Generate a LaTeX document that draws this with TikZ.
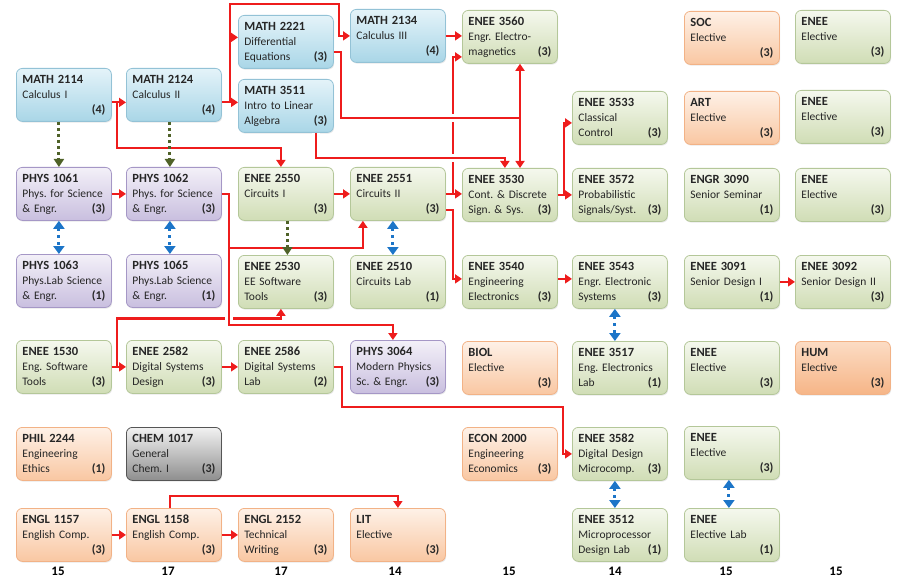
\documentclass[tikz,border=0pt]{standalone}
\usepackage{fontspec}
\setmainfont{Carlito}
\newcommand*{\chartfont}{\fontsize{11.5}{15}\selectfont\frenchspacing}
\newcommand*{\titlefont}{\fontsize{12.5}{15}\selectfont\bfseries}
\newcommand*{\crs}[4]{{\titlefont #1}\\\mbox{#2}\\\mbox{#3}\hfill{\fontsize{12}{15}\selectfont\bfseries(#4)}}
\setlength{\parindent}{0pt}
\definecolor{txt}{HTML}{262626}
\definecolor{mathtop}{HTML}{E4F3F9}
\definecolor{mathbot}{HTML}{A9D6E7}
\definecolor{mathline}{HTML}{93C2D6}
\definecolor{phystop}{HTML}{F3F0F8}
\definecolor{physbot}{HTML}{C9BFDF}
\definecolor{physline}{HTML}{A597C6}
\definecolor{eneetop}{HTML}{F5F8EE}
\definecolor{eneebot}{HTML}{D0DDB5}
\definecolor{eneeline}{HTML}{B4C799}
\definecolor{gentop}{HTML}{FEF1E7}
\definecolor{genbot}{HTML}{F9C7A2}
\definecolor{genline}{HTML}{F2B286}
\definecolor{chemtop}{HTML}{F2F2F2}
\definecolor{chembot}{HTML}{8E8E8E}
\definecolor{chemline}{HTML}{555555}
\definecolor{humtop}{HTML}{FCDCC4}
\definecolor{humbot}{HTML}{F6B587}
\definecolor{reqred}{HTML}{EE1C1C}
\definecolor{olive}{HTML}{4F6228}
\definecolor{coblue}{HTML}{1C75C8}
\usepackage{tikz}
\usetikzlibrary{arrows.meta}
\usetikzlibrary{shadows}
\tikzstyle{course}=[draw, rounded corners=6pt, anchor=north west, minimum width=95pt, minimum height=53pt,
  text width=83pt, inner xsep=6pt, inner ysep=0pt, align=left, text=txt, line width=0.8pt, font=\chartfont,
  drop shadow={opacity=0.18, shadow xshift=0.8pt, shadow yshift=-1.2pt}]
\tikzstyle{mathcrs}=[course, draw=mathline, top color=mathtop, bottom color=mathbot]
\tikzstyle{physcrs}=[course, draw=physline, top color=phystop, bottom color=physbot]
\tikzstyle{eneecrs}=[course, draw=eneeline, top color=eneetop, bottom color=eneebot]
\tikzstyle{gencrs}=[course, draw=genline, top color=gentop, bottom color=genbot]
\tikzstyle{chemcrs}=[course, draw=chemline, top color=chemtop, bottom color=chembot]
\tikzstyle{humcrs}=[course, draw=genline, top color=humtop, bottom color=humbot]
\tikzstyle{prereq}=[draw=reqred, line width=2.2pt, -{Triangle[length=7pt,width=9pt]}]
\tikzstyle{hop}=[preaction={draw=white, line width=8pt, -}]
\tikzstyle{softreq}=[draw=olive, line width=3pt, dash pattern=on 3pt off 3pt, -{Triangle[length=8pt,width=10pt]}]
\tikzstyle{coreq}=[draw=coblue, line width=3pt, dash pattern=on 3pt off 4pt,
  {Triangle[length=8pt,width=11pt]}-{Triangle[length=8pt,width=11pt]}]
\tikzstyle{total}=[font=\fontsize{13}{15}\selectfont\bfseries, text=black]

\begin{document}
\begin{tikzpicture}[x=1pt, y=-1pt]
    % first column
    \node[mathcrs] (m2114) at (16,68) {\crs{MATH 2114}{Calculus I}{}{4}};
    \node[physcrs] (p1061) at (16,167) {\crs{PHYS 1061}{Phys. for Science}{\& Engr.}{3}};
    \node[physcrs] (p1063) at (16,254) {\crs{PHYS 1063}{Phys.Lab Science}{\& Engr.}{1}};
    \node[eneecrs] (e1530) at (16,340) {\crs{ENEE 1530}{Eng. Software}{Tools}{3}};
    \node[gencrs] (phil) at (16,427) {\crs{PHIL 2244}{Engineering}{Ethics}{1}};
    \node[gencrs] (en1157) at (16,508) {\crs{ENGL 1157}{English Comp.}{}{3}};
    % second column
    \node[mathcrs] (m2124) at (126,68) {\crs{MATH 2124}{Calculus II}{}{4}};
    \node[physcrs] (p1062) at (126,167) {\crs{PHYS 1062}{Phys. for Science}{\& Engr.}{3}};
    \node[physcrs] (p1065) at (126,254) {\crs{PHYS 1065}{Phys.Lab Science}{\& Engr.}{1}};
    \node[eneecrs] (e2582) at (126,340) {\crs{ENEE 2582}{Digital Systems}{Design}{3}};
    \node[chemcrs] (chem) at (126,427) {\crs{CHEM 1017}{General}{Chem. I}{3}};
    \node[gencrs] (en1158) at (126,508) {\crs{ENGL 1158}{English Comp.}{}{3}};
    % third column
    \node[mathcrs] (m2221) at (238,15) {\crs{MATH 2221}{Differential}{Equations}{3}};
    \node[mathcrs] (m3511) at (238,79) {\crs{MATH 3511}{Intro to Linear}{Algebra}{3}};
    \node[eneecrs] (e2550) at (238,167) {\crs{ENEE 2550}{Circuits I}{}{3}};
    \node[eneecrs] (e2530) at (238,255) {\crs{ENEE 2530}{EE Software}{Tools}{3}};
    \node[eneecrs] (e2586) at (238,340) {\crs{ENEE 2586}{Digital Systems}{Lab}{2}};
    \node[gencrs] (en2152) at (238,508) {\crs{ENGL 2152}{Technical}{Writing}{3}};
    % fourth column
    \node[mathcrs] (m2134) at (350,9) {\crs{MATH 2134}{Calculus III}{}{4}};
    \node[eneecrs] (e2551) at (350,167) {\crs{ENEE 2551}{Circuits II}{}{3}};
    \node[eneecrs] (e2510) at (350,255) {\crs{ENEE 2510}{Circuits Lab}{}{1}};
    \node[physcrs] (p3064) at (350,340) {\crs{PHYS 3064}{Modern Physics}{Sc. \& Engr.}{3}};
    \node[gencrs] (lit) at (350,508) {\crs{LIT}{Elective}{}{3}};
    % fifth column
    \node[eneecrs] (e3560) at (462,10) {\crs{ENEE 3560}{Engr. Electro-}{magnetics}{3}};
    \node[eneecrs] (e3530) at (462,168) {\crs{ENEE 3530}{Cont. \& Discrete}{Sign. \& Sys.}{3}};
    \node[eneecrs] (e3540) at (462,255) {\crs{ENEE 3540}{Engineering}{Electronics}{3}};
    \node[gencrs] (biol) at (462,341) {\crs{BIOL}{Elective}{}{3}};
    \node[gencrs] (econ) at (462,427) {\crs{ECON 2000}{Engineering}{Economics}{3}};
    % sixth column
    \node[eneecrs] (e3533) at (572,91) {\crs{ENEE 3533}{Classical}{Control}{3}};
    \node[eneecrs] (e3572) at (572,168) {\crs{ENEE 3572}{Probabilistic}{Signals/Syst.}{3}};
    \node[eneecrs] (e3543) at (572,255) {\crs{ENEE 3543}{Engr. Electronic}{Systems}{3}};
    \node[eneecrs] (e3517) at (572,341) {\crs{ENEE 3517}{Eng. Electronics}{Lab}{1}};
    \node[eneecrs] (e3582) at (572,427) {\crs{ENEE 3582}{Digital Design}{Microcomp.}{3}};
    \node[eneecrs] (e3512) at (572,508) {\crs{ENEE 3512}{Microprocessor}{Design Lab}{1}};
    % seventh column
    \node[gencrs] (soc) at (684,11) {\crs{SOC}{Elective}{}{3}};
    \node[gencrs] (art) at (684,91) {\crs{ART}{Elective}{}{3}};
    \node[eneecrs] (engr) at (684,168) {\crs{ENGR 3090}{Senior Seminar}{}{1}};
    \node[eneecrs] (e3091) at (684,255) {\crs{ENEE 3091}{Senior Design I}{}{1}};
    \node[eneecrs] (elecA) at (684,341) {\crs{ENEE}{Elective}{}{3}};
    \node[eneecrs] (elecB) at (684,426) {\crs{ENEE}{Elective}{}{3}};
    \node[eneecrs] (eleclab) at (684,508) {\crs{ENEE}{Elective Lab}{}{1}};
    % eighth column
    \node[eneecrs] (elecC) at (795,10) {\crs{ENEE}{Elective}{}{3}};
    \node[eneecrs] (elecD) at (795,90) {\crs{ENEE}{Elective}{}{3}};
    \node[eneecrs] (elecE) at (795,168) {\crs{ENEE}{Elective}{}{3}};
    \node[eneecrs] (e3092) at (795,255) {\crs{ENEE 3092}{Senior Design II}{}{3}};
    \node[humcrs] (hum) at (795,341) {\crs{HUM}{Elective}{}{3}};
    % credit totals
    \foreach \x/\n [count=\i] in {58/15,168/17,281/17,395/14,509/15,615/14,726/15,836/15}
        \node[total] (tot\i) at (\x,571) {\n};

    % maths chain
    \draw[prereq] ([yshift=-7.5pt]m2114.east) -- ([yshift=-7.5pt]m2124.west);
    \draw[prereq] ([yshift=-7.5pt]m2114.east) -- ++(5,0) -- ++(0,46) -| ([xshift=-5pt]e2550.north);
    \draw[prereq] ([yshift=-7.5pt]m2124.east) -- ++(8,0) coordinate (b1) -- (m3511.west |- b1);
    \draw[prereq] (b1) |- ([yshift=4.5pt]m2221.west);
    \draw[prereq] (b1) -- ++(0,-98) -- ++(109,0) |- (m2134.west);
    \draw[prereq] (m2134.east) -- (e3560.west |- m2134.east);
    % circuits II fan out
    \draw[prereq] (e2551.east) -- ++(7,0) |- ([yshift=-20pt]e3560.west);
    \draw[prereq] (e2551.east) -- (e3530.west |- e2551.east);
    \draw[prereq] ([yshift=-16pt]e2551.east) -- ++(7,0) |- ([yshift=3pt]e3540.west);
    % crossing lines
    \coordinate (j1) at (520,118);
    \draw[prereq,hop] ([yshift=-10.5pt]m2221.east) -- ++(7,0) |- (j1) -- (j1 |- e3560.south);
    \draw[prereq] (j1) -- (j1 |- e3530.north);
    \draw[prereq,hop] ([xshift=30pt]m3511.south) -- ++(0,25) -| ([xshift=-5pt]e3530.north);
    \draw[prereq] (e3530.east) -- (e3572.west);
    \draw[prereq] (e3530.east) -- ++(6,0) |- ([yshift=-5pt]e3533.west);
    % circuits
    \draw[prereq] (e2550.east) -- (e2551.west);
    \draw[prereq] (p1061.east) -- (p1062.west);
    \draw[prereq] (e1530.east) -- (e2582.west);
    \draw[prereq] (e1530.east) -- ++(5,0) -- ++(0,-48.5) -| ([xshift=-5pt]e2530.south);
    \draw[prereq,hop] (p1062.east) -- ++(7,0) -- ++(0,131) -| ([xshift=-5pt]p3064.north);
    \draw[prereq] (p1062.east) ++(7,54) -| ([xshift=-35pt]e2551.south);
    \draw[prereq] (e2582.east) -- (e2586.west);
    \draw[prereq] (e2586.east) -- ++(8,0) -- ++(0,40) -- ++(221,0) |- (e3582.west);
    \draw[prereq] ([yshift=3pt]e3540.east) -- ([yshift=3pt]e3543.west);
    \draw[prereq] (e3091.east) -- (e3092.west);
    % english
    \draw[prereq] (en1157.east) -- (en1158.west);
    \draw[prereq] (en1158.east) -- (en2152.west);
    \draw[prereq] ([xshift=-4pt]en1158.north) -- ++(0,-12) -| (lit.north);
    % dotted links
    \draw[softreq] ([xshift=-5pt]m2114.south) -- ([xshift=-5pt]p1061.north);
    \draw[softreq] ([xshift=-4pt]m2124.south) -- ([xshift=-4pt]p1062.north);
    \draw[softreq] ([xshift=1.5pt]e2550.south) -- ([xshift=1.5pt]e2530.north);
    \draw[coreq] ([xshift=-5pt]p1061.south) -- ([xshift=-5pt]p1063.north);
    \draw[coreq] ([xshift=-4pt]p1062.south) -- ([xshift=-4pt]p1065.north);
    \draw[coreq] ([xshift=-5pt]e2551.south) -- ([xshift=-5pt]e2510.north);
    \draw[coreq] ([xshift=-5pt]e3543.south) -- ([xshift=-5pt]e3517.north);
    \draw[coreq] ([xshift=-5pt]e3582.south) -- ([xshift=-5pt]e3512.north);
    \draw[coreq] ([xshift=-3pt]elecB.south) -- ([xshift=-3pt]eleclab.north);
    \path [use as bounding box] (0,0) rectangle (900,583);
\end{tikzpicture}
\end{document}
